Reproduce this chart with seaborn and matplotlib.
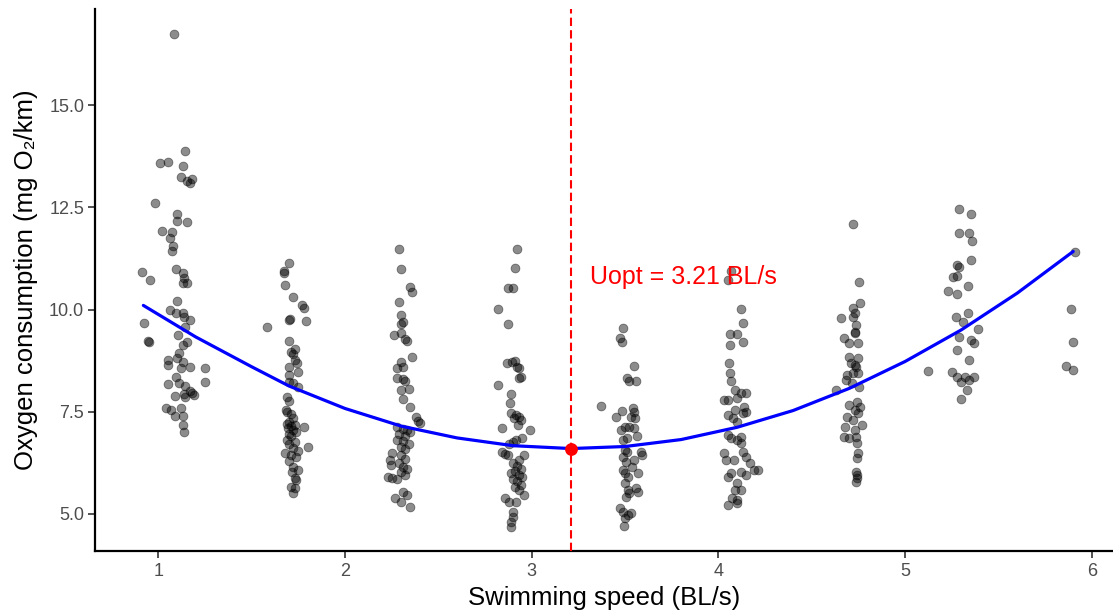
import matplotlib
matplotlib.use("Agg")
import matplotlib.pyplot as plt
import seaborn as sns
import pandas as pd

# ---- data (jittered speed, oxygen consumption) ----
c1_x = [1.086, 1.145, 1.01, 1.05, 1.13, 1.12, 1.155, 1.18, 1.17, 0.985, 1.10, 1.10, 1.155, 1.02, 1.075,
        1.06, 1.08, 1.075, 0.915, 0.957, 1.096, 1.13, 1.14, 1.13, 1.155, 1.10, 1.06, 1.096, 1.13, 1.14,
        1.17, 1.145, 0.925, 1.107, 0.952, 0.945, 1.155, 1.13, 1.11, 1.10, 1.054, 1.054, 1.13, 1.17, 1.12,
        1.25, 1.25, 1.096, 1.11, 1.05, 1.145, 1.17, 1.18, 1.14, 1.19, 1.09, 1.145, 1.04, 1.07, 1.12,
        1.09, 1.13, 1.13, 1.135]
c1_y = [16.74, 13.87, 13.58, 13.6, 13.5, 13.24, 13.14, 13.19, 13.09, 12.6, 12.33, 12.16, 12.14, 11.92, 11.9,
        11.75, 11.55, 11.43, 10.92, 10.72, 10.99, 10.89, 10.77, 10.65, 10.65, 10.2, 9.98, 9.91, 9.91, 9.82,
        9.74, 9.57, 9.67, 9.38, 9.2, 9.22, 9.2, 9.13, 8.94, 8.81, 8.77, 8.64, 8.72, 8.59, 8.57,
        8.57, 8.23, 8.35, 8.2, 8.18, 8.12, 8.0, 7.95, 7.93, 7.9, 7.88, 7.86, 7.59, 7.54, 7.59,
        7.4, 7.4, 7.18, 7.0]

c2_x = [1.70, 1.675, 1.675, 1.68, 1.72, 1.77, 1.78, 1.70, 1.705, 1.79, 1.58, 1.70, 1.73, 1.71, 1.72,
        1.73, 1.745, 1.70, 1.75, 1.70, 1.70, 1.72, 1.75, 1.69, 1.70, 1.685, 1.69, 1.71, 1.72, 1.70,
        1.69, 1.71, 1.73, 1.695, 1.72, 1.74, 1.70, 1.78, 1.71, 1.69, 1.73, 1.70, 1.72, 1.80, 1.75,
        1.68, 1.71, 1.74, 1.70, 1.72, 1.75, 1.715, 1.73, 1.74, 1.71, 1.73, 1.72]
c2_y = [11.14, 10.94, 10.89, 10.6, 10.3, 10.11, 10.04, 9.74, 9.76, 9.72, 9.57, 9.23, 9.03, 8.96, 8.91,
        8.77, 8.69, 8.59, 8.47, 8.40, 8.23, 8.2, 8.1, 7.86, 7.76, 7.54, 7.49, 7.45, 7.35, 7.25,
        7.2, 7.15, 7.18, 7.1, 7.05, 7.0, 6.95, 7.13, 6.9, 6.8, 6.75, 6.7, 6.62, 6.64, 6.55,
        6.5, 6.45, 6.4, 6.3, 6.15, 6.08, 6.03, 5.88, 5.83, 5.66, 5.64, 5.51]

c3_x = [2.29, 2.30, 2.35, 2.36, 2.29, 2.30, 2.31, 2.30, 2.26, 2.30, 2.32, 2.33, 2.36, 2.30, 2.28,
        2.31, 2.28, 2.31, 2.32, 2.30, 2.34, 2.31, 2.35, 2.38, 2.39, 2.40, 2.28, 2.31, 2.33, 2.35,
        2.29, 2.32, 2.28, 2.31, 2.34, 2.30, 2.32, 2.25, 2.24, 2.245, 2.23, 2.25, 2.30, 2.32, 2.29,
        2.31, 2.33, 2.30, 2.32, 2.28, 2.27, 2.30, 2.33, 2.31, 2.35]
c3_y = [11.48, 10.99, 10.55, 10.43, 10.18, 9.87, 9.69, 9.65, 9.38, 9.43, 9.28, 9.23, 8.84, 8.72, 8.57,
        8.59, 8.33, 8.30, 8.25, 8.03, 8.06, 7.81, 7.62, 7.37, 7.27, 7.22, 7.12, 7.08, 7.05, 7.0,
        6.95, 6.9, 6.82, 6.78, 6.72, 6.65, 6.6, 6.49, 6.32, 6.2, 5.9, 5.88, 6.45, 6.35, 6.25,
        6.15, 6.1, 6.02, 5.95, 5.85, 5.39, 5.29, 5.46, 5.54, 5.17]

c4_x = [2.92, 2.91, 2.875, 2.90, 2.82, 2.875, 2.87, 2.895, 2.91, 2.92, 2.93, 2.945, 2.93, 2.82, 2.89,
        2.885, 2.89, 2.915, 2.93, 2.945, 2.905, 2.925, 2.84, 2.99, 2.95, 2.915, 2.90, 2.88, 2.84, 2.855,
        2.875, 2.96, 2.93, 2.90, 2.92, 2.94, 2.91, 2.89, 2.93, 2.95, 2.90, 2.92, 2.94, 2.91, 2.93,
        2.855, 2.88, 2.915, 2.96, 2.90, 2.90, 2.89, 2.89]
c4_y = [11.48, 11.01, 10.53, 10.53, 10.01, 9.65, 8.69, 8.72, 8.74, 8.59, 8.57, 8.35, 8.33, 8.15, 7.93,
        7.71, 7.47, 7.42, 7.37, 7.3, 7.35, 7.18, 7.10, 7.05, 6.86, 6.81, 6.76, 6.71, 6.52, 6.47,
        6.44, 6.44, 6.32, 6.25, 6.18, 6.1, 6.05, 6.0, 5.95, 5.9, 5.85, 5.8, 5.72, 5.65, 5.58,
        5.39, 5.29, 5.29, 5.46, 5.05, 4.93, 4.8, 4.68]

c5_x = [3.49, 3.475, 3.485, 3.545, 3.51, 3.52, 3.56, 3.37, 3.45, 3.485, 3.54, 3.545, 3.53, 3.555, 3.50,
        3.48, 3.52, 3.545, 3.49, 3.51, 3.565, 3.50, 3.51, 3.585, 3.59, 3.49, 3.505, 3.545, 3.49, 3.50,
        3.515, 3.57, 3.535, 3.50, 3.515, 3.56, 3.57, 3.505, 3.52, 3.475, 3.49, 3.515, 3.53, 3.50, 3.495]
c5_y = [9.55, 9.30, 9.21, 8.62, 8.33, 8.25, 8.25, 7.64, 7.37, 7.52, 7.59, 7.49, 7.37, 7.35, 7.13,
        7.05, 7.13, 7.10, 6.81, 6.86, 6.91, 6.56, 6.52, 6.52, 6.44, 6.39, 6.27, 6.32, 6.08, 6.0,
        5.9, 6.0, 6.15, 5.76, 5.59, 5.64, 5.54, 5.42, 5.51, 5.15, 5.05, 4.98, 5.02, 4.9, 4.71]

c6_x = [4.05, 4.065, 4.12, 4.13, 4.06, 4.10, 4.06, 4.13, 4.055, 4.06, 4.065, 4.09, 4.12, 4.15, 4.10,
        4.05, 4.03, 4.09, 4.135, 4.13, 4.15, 4.05, 4.08, 4.10, 4.05, 4.065, 4.12, 4.12, 4.10, 4.13,
        4.03, 4.04, 4.15, 4.085, 4.17, 4.19, 4.21, 4.065, 4.12, 4.15, 4.05, 4.10, 4.09, 4.12, 4.07,
        4.10, 4.05, 4.10]
c6_y = [10.72, 10.95, 10.01, 9.67, 9.40, 9.40, 9.13, 9.21, 8.69, 8.45, 8.25, 8.03, 7.96, 7.96, 7.84,
        7.79, 7.79, 7.54, 7.62, 7.47, 7.49, 7.42, 7.35, 7.25, 6.93, 6.86, 6.88, 6.74, 6.81, 6.52,
        6.49, 6.32, 6.39, 6.32, 6.25, 6.08, 6.08, 6.0, 6.03, 5.95, 5.9, 5.76, 5.59, 5.59, 5.39,
        5.34, 5.22, 5.27]

c7_x = [4.72, 4.75, 4.76, 4.72, 4.73, 4.72, 4.655, 4.735, 4.73, 4.67, 4.70, 4.745, 4.73, 4.70, 4.745,
        4.71, 4.73, 4.69, 4.72, 4.745, 4.685, 4.715, 4.755, 4.735, 4.63, 4.70, 4.74, 4.76, 4.73, 4.745,
        4.69, 4.72, 4.77, 4.68, 4.73, 4.675, 4.70, 4.735, 4.74, 4.745, 4.74, 4.735, 4.74, 4.74, 4.735]
c7_y = [12.09, 10.67, 10.16, 10.04, 9.91, 9.82, 9.79, 9.62, 9.45, 9.30, 9.18, 9.18, 9.43, 8.84, 8.81,
        8.69, 8.64, 8.40, 8.45, 8.45, 8.28, 8.2, 8.10, 8.59, 8.03, 7.67, 7.74, 7.62, 7.54, 7.47,
        7.37, 7.30, 7.18, 7.13, 7.05, 6.88, 6.86, 6.88, 6.74, 6.49, 6.37, 6.03, 5.95, 5.88, 5.78]

c8_x = [5.29, 5.35, 5.29, 5.34, 5.36, 5.35, 5.28, 5.29, 5.255, 5.28, 5.335, 5.23, 5.28, 5.27, 5.335,
        5.31, 5.39, 5.29, 5.35, 5.37, 5.28, 5.34, 5.12, 5.25, 5.28, 5.32, 5.37, 5.30, 5.34, 5.33, 5.30]
c8_y = [12.46, 12.33, 11.87, 11.87, 11.67, 11.21, 11.09, 11.04, 10.79, 10.82, 10.57, 10.45, 10.38, 9.82, 9.91,
        9.69, 9.52, 9.33, 9.25, 9.18, 9.01, 8.77, 8.50, 8.47, 8.35, 8.35, 8.35, 8.23, 8.28, 8.03, 7.81]

c9_x = [5.91, 5.89, 5.90, 5.86, 5.90]
c9_y = [11.41, 10.01, 9.21, 8.62, 8.52]

# fitted curve
curve_x = [0.92, 1.2, 1.5, 1.7, 2.0, 2.3, 2.6, 2.9, 3.21, 3.5, 3.8, 4.1, 4.4, 4.7, 5.0, 5.3, 5.6, 5.9]
curve_y = [10.1, 9.33, 8.6, 8.13, 7.58, 7.15, 6.86, 6.67, 6.6, 6.65, 6.82, 7.12, 7.53, 8.07, 8.73, 9.5, 10.4, 11.42]

u_opt = 3.21
u_opt_y = 6.6
u_label = "Uopt = 3.21 BL/s"
label_pos = (3.31, 10.8)

xticks = [1, 2, 3, 4, 5, 6]
yticks = [5.0, 7.5, 10.0, 12.5, 15.0]
ytick_labels = ["5.0", "7.5", "10.0", "12.5", "15.0"]

# ---- build data frames ----
pts = pd.DataFrame({
    "speed": c1_x + c2_x + c3_x + c4_x + c5_x + c6_x + c7_x + c8_x + c9_x,
    "oxygen": c1_y + c2_y + c3_y + c4_y + c5_y + c6_y + c7_y + c8_y + c9_y,
})
fit = pd.DataFrame({"speed": curve_x, "oxygen": curve_y})
opt = pd.DataFrame({"speed": [u_opt], "oxygen": [u_opt_y]})

sns.set_theme(style="ticks")
plt.rcParams["font.family"] = ["Liberation Sans", "DejaVu Sans"]

fig = plt.figure(figsize=(11.13, 6.16), dpi=100)
ax = fig.add_axes([95 / 1113, 1 - 550.8 / 616, 1018 / 1113, (550.8 - 8.9) / 616])

sns.scatterplot(data=pts, x="speed", y="oxygen", ax=ax, color="black", alpha=0.45,
                s=40, edgecolor="black", linewidth=0.6, zorder=2, legend=False)
sns.lineplot(data=fit, x="speed", y="oxygen", ax=ax, color="#0000FF", linewidth=2.3,
             estimator=None, zorder=3)
ax.axvline(u_opt, color="#FF0000", linestyle=(0, (4, 2)), linewidth=1.5, zorder=4)
sns.scatterplot(data=opt, x="speed", y="oxygen", ax=ax, color="#FF0000", s=85,
                edgecolor="#FF0000", linewidth=0, zorder=5, legend=False)
ax.text(label_pos[0], label_pos[1], u_label, color="#FF0000", fontsize=18,
        ha="left", va="center", zorder=6)

ax.set_xlim(0.661, 6.113)
ax.set_ylim(4.1, 17.35)
ax.set_xticks(xticks)
ax.set_xticklabels([str(t) for t in xticks])
ax.set_yticks(yticks)
ax.set_yticklabels(ytick_labels)

for side in ["top", "right"]:
    ax.spines[side].set_visible(False)
for side in ["left", "bottom"]:
    ax.spines[side].set_linewidth(1.6)
    ax.spines[side].set_color("black")

ax.tick_params(axis="both", length=4.8, width=1.2, color="#333333",
               labelcolor="#4D4D4D", labelsize=13, pad=3)
ax.tick_params(axis="x", pad=4)

ax.set_xlabel("Swimming speed (BL/s)", fontsize=18.5, color="black", labelpad=4)
ax.set_ylabel("Oxygen consumption (mg O\u2082/km)", fontsize=18.5, color="black", labelpad=8)

fig.savefig("out.png", dpi=100)
